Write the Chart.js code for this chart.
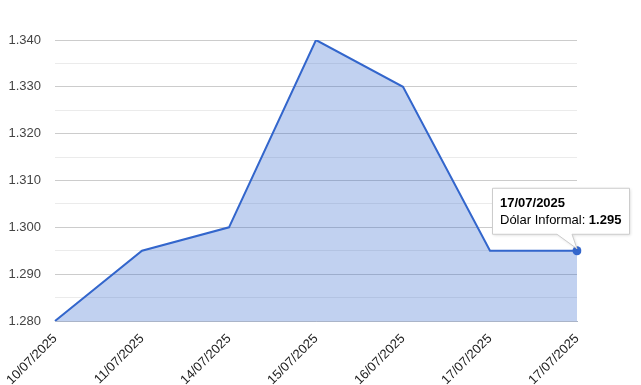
<!DOCTYPE html>
<html>
<head>
<meta charset="utf-8">
<script src="https://cdn.jsdelivr.net/npm/chart.js@4.4.1/dist/chart.umd.min.js"></script>
<style>
  html, body { margin: 0; padding: 0; background: #fff; }
  #wrap { width: 641px; height: 385px; position: relative; }
</style>
</head>
<body>
<div id="wrap"><canvas id="chart"></canvas></div>
<script>
// chart data
const labels = ["10/07/2025", "11/07/2025", "14/07/2025", "15/07/2025", "16/07/2025", "17/07/2025", "17/07/2025"];
const values = [1.280, 1.295, 1.300, 1.340, 1.330, 1.295, 1.295];
const seriesName = "Dólar Informal";
const highlightIndex = 6;

const FONT = "Arial, 'Liberation Sans', sans-serif";

// draws the google-style callout over the highlighted point
const calloutPlugin = {
  id: "callout",
  afterDatasetsDraw(chart){
    const meta = chart.getDatasetMeta(0);
    const pt = meta.data[highlightIndex];
    if(!pt) return;
    const ctx = chart.ctx;
    const px = pt.x, py = pt.y;
    const bx = px - 85, by = py - 63, bw = 137, bh = 46;
    const tailL = px - 20, tailR = px - 5;
    ctx.save();
    ctx.shadowColor = "rgba(0,0,0,0.15)";
    ctx.shadowBlur = 3;
    ctx.shadowOffsetX = 1;
    ctx.shadowOffsetY = 1;
    ctx.beginPath();
    ctx.moveTo(bx + 0.5, by + 0.5);
    ctx.lineTo(bx + bw + 0.5, by + 0.5);
    ctx.lineTo(bx + bw + 0.5, by + bh + 0.5);
    ctx.lineTo(tailR, by + bh + 0.5);
    ctx.lineTo(px, py - 2);
    ctx.lineTo(tailL, by + bh + 0.5);
    ctx.lineTo(bx + 0.5, by + bh + 0.5);
    ctx.closePath();
    ctx.fillStyle = "#fff";
    ctx.fill();
    ctx.shadowColor = "transparent";
    ctx.strokeStyle = "#cccccc";
    ctx.lineWidth = 1;
    ctx.stroke();

    ctx.fillStyle = "#000";
    ctx.textBaseline = "alphabetic";
    ctx.textAlign = "left";
    ctx.font = "bold 13px " + FONT;
    ctx.fillText(labels[highlightIndex], bx + 8, by + 19);
    ctx.font = "13px " + FONT;
    const pre = seriesName + ": ";
    ctx.fillText(pre, bx + 8, by + 36);
    const w = ctx.measureText(pre).width;
    ctx.font = "bold 13px " + FONT;
    ctx.fillText(values[highlightIndex].toFixed(3), bx + 8 + w, by + 36);
    ctx.restore();
  }
};

const ctx = document.getElementById("chart").getContext("2d");
new Chart(ctx, {
  type: "line",
  data: {
    labels,
    datasets: [{
      label: seriesName,
      data: values,
      borderColor: "#3366cc",
      backgroundColor: "rgba(51,102,204,0.3)",
      borderWidth: 2,
      fill: "start",
      tension: 0,
      pointRadius: values.map((v, i) => i === highlightIndex ? 4.5 : 0),
      pointBackgroundColor: "#3366cc",
      pointBorderColor: "#3366cc",
      pointBorderWidth: 0
    }]
  },
  options: {
    responsive: true,
    maintainAspectRatio: false,
    animation: false,
    events: [],
    layout: { padding: { left: 0, right: 64, top: 40, bottom: 0 } },
    plugins: { legend: { display: false }, tooltip: { enabled: false } },
    scales: {
      x: {
        offset: false,
        grid: { display: false },
        border: { display: true, color: "#aab4c8", width: 1 },
        ticks: {
          color: "#222",
          font: { family: FONT, size: 13 },
          minRotation: 45,
          maxRotation: 45,
          autoSkip: false,
          padding: 2
        },
        afterFit(scale){ scale.height = 64; }
      },
      y: {
        min: 1.28,
        max: 1.34,
        grid: {
          color: c => {
            const v = Math.round(c.tick.value * 1000);
            return v % 10 === 0 ? "#cccccc" : "#ebebeb";
          },
          drawTicks: false
        },
        border: { display: false },
        ticks: {
          stepSize: 0.005,
          color: "#444",
          font: { family: FONT, size: 13 },
          padding: 14,
          callback: v => {
            const m = Math.round(v * 1000);
            return m % 10 === 0 ? (m / 1000).toFixed(3) : "";
          }
        },
        afterFit(scale){ scale.width = 55; }
      }
    }
  },
  plugins: [calloutPlugin]
});
</script>
</body>
</html>
